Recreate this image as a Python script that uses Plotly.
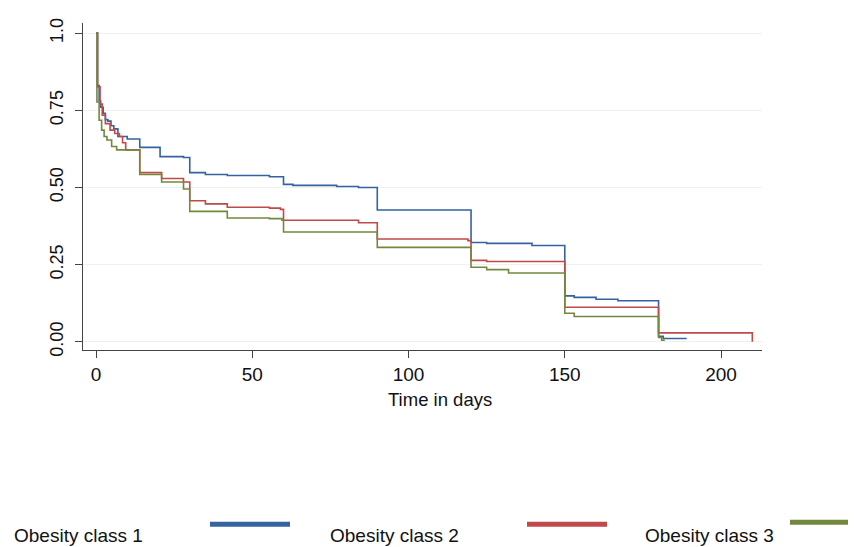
import plotly.graph_objects as go

# ---- data ----
class1_days = [0, 0.5, 1, 1.5, 2.3, 3, 3.8, 4.8, 5.7, 7, 10, 14, 20.5, 28, 30, 35, 42,
               55.5, 60, 63, 77, 84, 90, 120, 125, 139.5, 150, 153, 160, 167, 180, 181.5, 189]
class1_surv = [1.0, 0.83, 0.78, 0.76, 0.74, 0.72, 0.715, 0.70, 0.69, 0.665, 0.657, 0.63, 0.60,
               0.597, 0.548, 0.542, 0.539, 0.535, 0.51, 0.507, 0.503, 0.50, 0.427, 0.322, 0.319,
               0.312, 0.149, 0.144, 0.138, 0.133, 0.018, 0.011, 0.011]

class2_days = [0, 0.5, 1.3, 2, 3, 4.5, 6, 7.5, 8.5, 9.5, 14, 21, 28, 30, 35, 42, 55.5, 59,
               60, 84, 90, 119, 120, 125, 150, 180, 210]
class2_surv = [1.0, 0.826, 0.77, 0.734, 0.707, 0.686, 0.675, 0.665, 0.645, 0.622, 0.548, 0.529,
               0.518, 0.457, 0.447, 0.436, 0.433, 0.429, 0.394, 0.386, 0.333, 0.328, 0.264, 0.26,
               0.112, 0.029, 0.0]

class3_days = [0, 0.3, 1, 1.8, 2.6, 3.5, 5, 6.6, 14, 21, 28, 30, 42, 55.5, 59.5, 60, 90,
               120, 125, 132, 150, 153, 180, 181, 182]
class3_surv = [1.0, 0.777, 0.718, 0.686, 0.665, 0.654, 0.633, 0.622, 0.542, 0.518, 0.495,
               0.4225, 0.401, 0.399, 0.394, 0.356, 0.306, 0.2415, 0.234, 0.223, 0.0925, 0.082,
               0.014, 0.005, 0.005]

series_names = ["Obesity class 1", "Obesity class 2", "Obesity class 3"]
series_colors = ["#3562A0", "#BF4A48", "#72893D"]

x_ticks = [0, 50, 100, 150, 200]
y_ticks = [0, 0.25, 0.5, 0.75, 1.0]
y_ticktext = ["0.00", "0.25", "0.50", "0.75", "1.0"]
x_title = "Time in days"

FONT = "Liberation Sans, Arial, sans-serif"

fig = go.Figure()
for d, s, name, col in zip([class1_days, class2_days, class3_days],
                           [class1_surv, class2_surv, class3_surv],
                           series_names, series_colors):
    fig.add_trace(go.Scatter(x=d, y=s, mode="lines", name=name,
                             line=dict(color=col, width=1.6, shape="hv"),
                             showlegend=False))

# the page body adds an 8px margin, so work in page pixels and subtract it
OFF = 8
W, H = 856 - OFF, 547 - OFF
L, R, T, B = 83 - OFF, 762 - OFF, 18 - OFF, 350 - OFF
pw, ph = R - L, B - T

def px2paper(px, py):
    px -= OFF
    py -= OFF
    return (px - L) / pw, (B - py) / ph

# legend (text + key lines) drawn manually to match layout
legend_text_x = [12, 328, 643]
legend_key_x = [(210, 290), (527, 607), (790, 870)]
legend_key_y = [527, 527, 525]
for i in range(3):
    tx, ty = px2paper(legend_text_x[i], 538)
    fig.add_annotation(x=tx, y=ty, xref="paper", yref="paper", text=series_names[i],
                       showarrow=False, xanchor="left", yanchor="middle",
                       font=dict(family=FONT, size=19, color="#111"))
    x0, yk = px2paper(legend_key_x[i][0], legend_key_y[i])
    x1, _ = px2paper(legend_key_x[i][1], legend_key_y[i])
    fig.add_shape(type="line", xref="paper", yref="paper", x0=x0, x1=x1, y0=yk, y1=yk,
                  line=dict(color=series_colors[i], width=5))

# x-axis title
atx, aty = px2paper(440, 400)
fig.add_annotation(x=atx, y=aty, xref="paper", yref="paper", text=x_title, showarrow=False,
                   xanchor="center", yanchor="middle",
                   font=dict(family=FONT, size=18.5, color="#111"))

fig.update_layout(
    width=W, height=H,
    margin=dict(l=L, r=W - R, t=T, b=H - B, pad=0),
    paper_bgcolor="white", plot_bgcolor="white",
    font=dict(family=FONT, size=15, color="#111"),
    xaxis=dict(range=[-4.16, 213.1], tickvals=x_ticks, showgrid=False, zeroline=False,
               showline=True, linecolor="#444", linewidth=1.3,
               ticks="outside", ticklen=7, tickcolor="#444", tickwidth=1.2,
               tickfont=dict(family=FONT, size=19, color="#111"), ticklabelstandoff=0),
    yaxis=dict(range=[-0.0265, 1.0329], tickvals=y_ticks, ticktext=y_ticktext,
               showgrid=True, gridcolor="#f0f0f0", gridwidth=1, zeroline=False,
               showline=True, linecolor="#444", linewidth=1.3,
               ticks="outside", ticklen=7, tickcolor="#444", tickwidth=1.2,
               tickangle=-90, tickfont=dict(family=FONT, size=18, color="#111"),
               ticklabelstandoff=5),
)

fig.write_html("out.html")
